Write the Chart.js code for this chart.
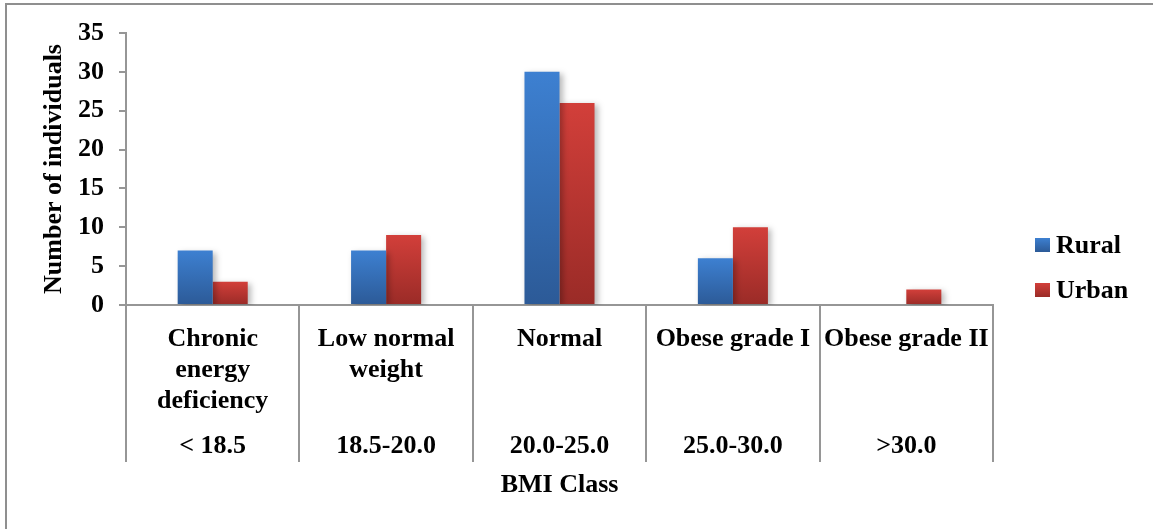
<!DOCTYPE html>
<html>
<head>
<meta charset="utf-8">
<script src="https://cdn.jsdelivr.net/npm/chart.js@4.4.1/dist/chart.umd.min.js"></script>
<style>
  html, body { margin: 0; padding: 0; background: #fff; overflow: hidden; }
  #wrap { position: relative; width: 1153px; height: 529px; }
  #frame {
    position: absolute; left: 5px; top: 3px; width: 1160px; height: 540px;
    border-left: 2px solid #8f8f8f; border-top: 2px solid #8f8f8f;
  }
  canvas { position: absolute; left: 0; top: 0; }
</style>
</head>
<body>
<div id="wrap">
  <div id="frame"></div>
  <canvas id="bmiChart" width="1153" height="529"></canvas>
</div>
<script>
// BMI classes (first label row) and their ranges (second row)
const categories = [
  ["Chronic", "energy", "deficiency"],
  ["Low normal", "weight"],
  ["Normal"],
  ["Obese grade I"],
  ["Obese grade II"]
];
const bmiRanges = ["< 18.5", "18.5-20.0", "20.0-25.0", "25.0-30.0", ">30.0"];

const rural = [7, 7, 30, 6, 0];
const urban = [3, 9, 26, 10, 2];

const yTicks = [0, 5, 10, 15, 20, 25, 30, 35];

const FONT = "'Liberation Serif', 'Times New Roman', serif";
const AXIS_GREY = "#969696";

const palette = {
  Rural: { top: "#3d80d1", bottom: "#2c5a97" },
  Urban: { top: "#d23f3a", bottom: "#9a2b27" }
};

// vertical gradient per bar, light on top, dark at the base
function barFill(ctx) {
  const chart = ctx.chart;
  const c = palette[ctx.dataset.label];
  if (!chart.chartArea || ctx.parsed == null) return c.top;
  const y = chart.scales.y;
  const top = y.getPixelForValue(ctx.parsed.y);
  const base = y.getPixelForValue(0);
  if (base - top < 1) return c.bottom;
  const g = chart.ctx.createLinearGradient(0, top, 0, base);
  g.addColorStop(0, c.top);
  g.addColorStop(1, c.bottom);
  return g;
}

const shadowPlugin = {
  id: "barShadow",
  beforeDatasetsDraw(chart) {
    const c = chart.ctx;
    c.save();
    c.shadowColor = "rgba(0,0,0,0.28)";
    c.shadowBlur = 6;
    c.shadowOffsetX = 3;
    c.shadowOffsetY = 2;
  },
  afterDatasetsDraw(chart) {
    chart.ctx.restore();
  }
};

// two rows of category text under the axis, plus the right-hand legend
const labelPlugin = {
  id: "bmiLabels",
  afterDraw(chart) {
    const c = chart.ctx;
    const x = chart.scales.x;
    const base = chart.scales.y.getPixelForValue(0);
    c.save();
    c.fillStyle = "#000";
    c.font = "bold 26px " + FONT;
    c.textAlign = "center";
    c.textBaseline = "alphabetic";
    categories.forEach((lines, i) => {
      const px = x.getPixelForValue(i);
      lines.forEach((t, j) => c.fillText(t, px, base + 41 + j * 31));
      c.fillText(bmiRanges[i], px, base + 148);
    });

    // legend
    const lx = chart.chartArea.right + 42;
    const ly = [238, 283];
    c.textAlign = "left";
    chart.data.datasets.forEach((ds, k) => {
      const col = palette[ds.label];
      const g = c.createLinearGradient(0, ly[k], 0, ly[k] + 14);
      g.addColorStop(0, col.top);
      g.addColorStop(1, col.bottom);
      c.fillStyle = g;
      c.fillRect(lx, ly[k], 15, 14);
      c.fillStyle = "#000";
      c.fillText(ds.label, lx + 21, ly[k] + 15);
    });
    c.restore();
  }
};

new Chart(document.getElementById("bmiChart"), {
  type: "bar",
  data: {
    labels: categories,
    datasets: [
      { label: "Rural", data: rural, backgroundColor: barFill, borderWidth: 0 },
      { label: "Urban", data: urban, backgroundColor: barFill, borderWidth: 0 }
    ]
  },
  options: {
    responsive: false,
    animation: false,
    events: [],
    layout: { padding: { left: 20, top: 33, right: 160, bottom: 0 } },
    datasets: {
      bar: { categoryPercentage: 0.404, barPercentage: 1.0 }
    },
    plugins: {
      legend: { display: false },
      tooltip: { enabled: false }
    },
    scales: {
      x: {
        offset: true,
        ticks: { display: false },
        grid: {
          offset: true,
          drawOnChartArea: false,
          drawTicks: true,
          tickLength: 157,
          color: AXIS_GREY,
          lineWidth: 2
        },
        border: { display: true, color: AXIS_GREY, width: 2 },
        title: {
          display: true,
          text: "BMI Class",
          color: "#000",
          font: { family: FONT, size: 26, weight: "bold" },
          padding: { top: 0, bottom: 28 }
        },
        afterFit(scale) { scale.height = 529 - 305; }
      },
      y: {
        min: 0,
        max: 35,
        afterBuildTicks(scale) { scale.ticks = yTicks.map(v => ({ value: v })); },
        ticks: {
          color: "#000",
          padding: 15,
          font: { family: FONT, size: 26, weight: "bold" }
        },
        grid: {
          drawOnChartArea: false,
          drawTicks: true,
          tickLength: 7,
          color: AXIS_GREY,
          lineWidth: 2
        },
        border: { display: true, color: AXIS_GREY, width: 2 },
        title: {
          display: true,
          text: "Number of individuals",
          color: "#000",
          font: { family: FONT, size: 26, weight: "bold" },
          padding: { top: 19, bottom: 0 }
        },
        afterFit(scale) { scale.width = 126 - 20; }
      }
    }
  },
  plugins: [shadowPlugin, labelPlugin]
});
</script>
</body>
</html>
